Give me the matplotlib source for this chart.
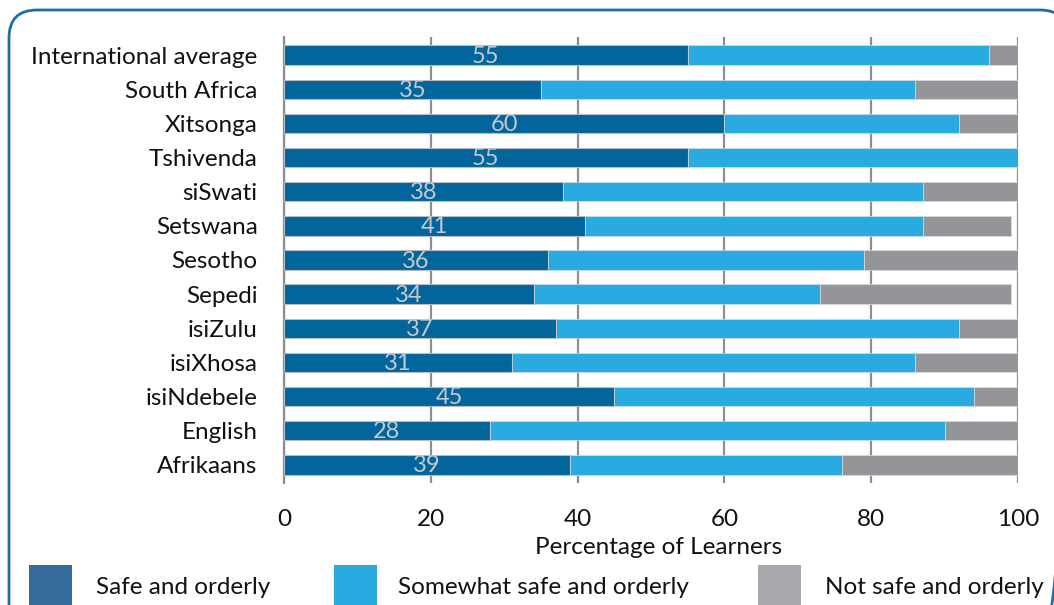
import matplotlib
matplotlib.use("Agg")
import matplotlib.pyplot as plt
from matplotlib.patches import FancyBboxPatch, Rectangle

categories = ["International average", "South Africa", "Xitsonga", "Tshivenda",
              "siSwati", "Setswana", "Sesotho", "Sepedi", "isiZulu", "isiXhosa",
              "isiNdebele", "English", "Afrikaans"]
safe = [55, 35, 60, 55, 38, 41, 36, 34, 37, 31, 45, 28, 39]
somewhat = [41, 51, 32, 45, 49, 46, 43, 39, 55, 55, 49, 62, 37]
not_safe = [4, 14, 8, 0, 13, 12, 21, 26, 8, 14, 6, 10, 24]
series_names = ["Safe and orderly", "Somewhat safe and orderly", "Not safe and orderly"]
xticks = [0, 20, 40, 60, 80, 100]

bar_colors = ["#02659b", "#29aae1", "#949598"]
legend_colors = ["#346a9c", "#29abe2", "#a6a8ab"]

plt.rcParams['font.family'] = ['Lato', 'DejaVu Sans']
FS = 17.5
W, H = 1054, 605

fig = plt.figure(figsize=(W / 100, H / 100), dpi=100)

# Overlay axes in pixel units for the frame and legend
ov = fig.add_axes([0, 0, 1, 1], zorder=0)
ov.set_xlim(0, W)
ov.set_ylim(H, 0)
ov.axis("off")
ov.patch.set_alpha(0)
ov.add_patch(FancyBboxPatch((9, 10), 1068 - 9, 640 - 10,
                            boxstyle="round,pad=0,rounding_size=28",
                            facecolor="none", edgecolor="#1f6ea3", linewidth=2))
leg_patch_x = [29, 334, 758]
leg_text_x = [96, 398, 825]
for px, tx, c, name in zip(leg_patch_x, leg_text_x, legend_colors, series_names):
    ov.add_patch(Rectangle((px, 565), 43, 50, facecolor=c, edgecolor="none"))
    ov.text(tx, 588, name, fontsize=FS, color="#111111", ha="left", va="center")

ax = fig.add_axes([284 / W, 122 / H, (1018 - 284) / W, (568 - 122) / H], zorder=1)
ax.patch.set_alpha(0)

y = list(range(len(categories)))
h = 0.57
ax.barh(y, safe, height=h, color=bar_colors[0], edgecolor="#b8bcc0", linewidth=0.8, zorder=3)
ax.barh(y, somewhat, left=safe, height=h, color=bar_colors[1], edgecolor="#d8dde0", linewidth=0.5, zorder=3)
lefts = [a + b for a, b in zip(safe, somewhat)]
ax.barh(y, not_safe, left=lefts, height=h, color=bar_colors[2], edgecolor="#d8dde0", linewidth=0.5, zorder=3)

for yi, v in zip(y, safe):
    ax.text(v / 2, yi + 0.03, str(v), ha="center", va="center", color="#c3c9cf",
            fontsize=17, zorder=4)

ax.set_ylim(len(categories) - 0.47, -0.53)
ax.set_xlim(0, 100)
ax.set_yticks(y)
ax.set_yticklabels(categories, fontsize=FS, color="#111111")
ax.set_xticks(xticks)
ax.set_xticklabels([str(t) for t in xticks], fontsize=FS, color="#111111")
ax.tick_params(axis="both", length=0)
ax.tick_params(axis="y", pad=19)
ax.tick_params(axis="x", pad=19)
ax.set_xlabel("Percentage of Learners", fontsize=FS, color="#111111")
ax.xaxis.set_label_coords(0.51, -0.1435)
ax.xaxis.label.set_va("center")
ax.grid(axis="x", color="#8e8e8e", linewidth=1.6, zorder=1)
for s in ["top", "right", "bottom"]:
    ax.spines[s].set_visible(False)
ax.spines["left"].set_color("#8e8e8e")
ax.spines["left"].set_linewidth(1.6)

fig.savefig("out.png", dpi=100)
